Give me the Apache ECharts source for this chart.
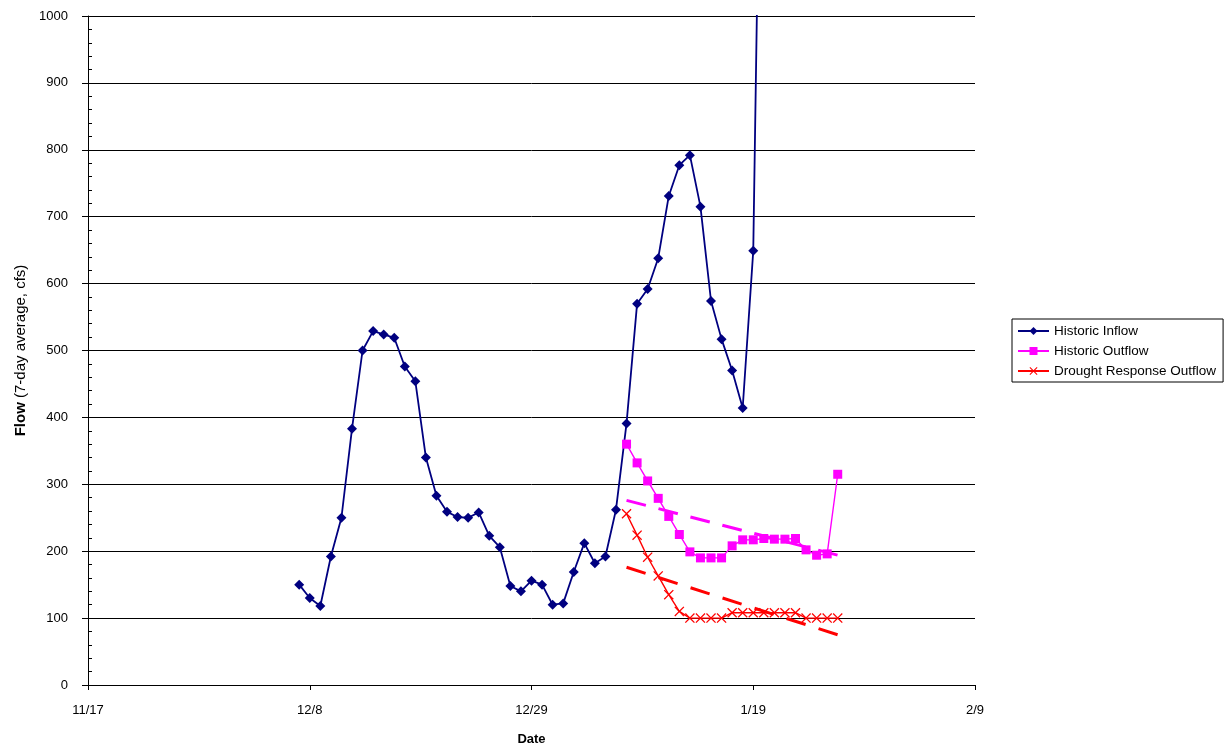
<!DOCTYPE html>
<html>
<head>
<meta charset="utf-8">
<script src="https://cdn.jsdelivr.net/npm/echarts@6/dist/echarts.min.js"></script>
<style>
html,body{margin:0;padding:0;background:#fff;}
#chart{width:1228px;height:753px;}
</style>
</head>
<body>
<div id="chart"></div>
<script>
// x values are days counted from 11/17
const xTickLabels = ['11/17', '12/8', '12/29', '1/19', '2/9'];
const inflowStartDay = 20;   // 12/7
const inflowValues = [150, 130, 118, 192, 250, 383, 500, 529, 524, 519, 476, 454, 340, 283, 259, 251, 250, 258, 223, 206, 148, 140,
  156, 150, 120, 122, 169, 212, 182, 192, 262, 391, 570, 592, 638, 731, 777, 792, 715, 574, 517, 470, 414, 649, 1680];
const outflowStartDay = 51;  // 1/7
const outflowValues = [360, 332, 305, 279, 252, 225, 199, 190, 190, 190, 208, 217, 217, 219, 218, 218, 219, 202, 194, 196, 315];
const droughtStartDay = 51;
const droughtValues = [256, 224, 191, 163, 135, 110, 100, 100, 100, 100, 108, 108, 108, 108, 108, 108, 108, 100, 100, 100, 100];
// linear trend lines (start/end values), over days 51..71
const trendDays = [51, 71];
const outflowTrend = [276, 194];
const droughtTrend = [176, 75];

function toPairs(start, vals) { return vals.map((v, i) => [start + i, v]); }
const xLabelMap = {};
xTickLabels.forEach((l, i) => { xLabelMap[i * 21] = l; });

const xSymbol = 'path://M0,0.9L0.9,0L5,4.1L9.1,0L10,0.9L5.9,5L10,9.1L9.1,10L5,5.9L0.9,10L0,9.1L4.1,5Z';
const font = 'Liberation Sans, Arial, sans-serif';

const chart = echarts.init(document.getElementById('chart'), null, {renderer: 'canvas'});
chart.setOption({
  animation: false,
  backgroundColor: '#fff',
  textStyle: {fontFamily: font},
  grid: {left: 88, right: 253, top: 16, bottom: 68, containLabel: false},
  legend: {
    orient: 'vertical', left: 1012, top: 319,
    borderColor: '#000', borderWidth: 1,
    padding: [5, 7, 4, 5],
    itemWidth: 31, itemHeight: 10, itemGap: 6,
    textStyle: {fontFamily: font, fontSize: 13.5, color: '#000'},
    data: ['Historic Inflow', 'Historic Outflow', 'Drought Response Outflow']
  },
  xAxis: {
    type: 'value', min: 0, max: 84, interval: 21,
    name: 'Date', nameLocation: 'middle', nameGap: 48,
    nameTextStyle: {fontFamily: font, fontSize: 13, fontWeight: 'bold', color: '#000'},
    axisLine: {show: true, lineStyle: {color: '#000', width: 1}},
    axisTick: {show: true, inside: false, length: 5, lineStyle: {color: '#000'}},
    axisLabel: {margin: 19, fontFamily: font, fontSize: 13, color: '#000',
      formatter: v => xLabelMap[v] || ''},
    splitLine: {show: false}
  },
  yAxis: [{
    type: 'value', min: 0, max: 1000, interval: 100,
    name: '{b|Flow} (7-day average, cfs)', nameLocation: 'middle', nameGap: 53,
    nameTextStyle: {fontFamily: font, fontSize: 15, color: '#000',
      rich: {b: {fontFamily: font, fontSize: 15, fontWeight: 'bold', color: '#000'}}},
    axisLine: {show: true, lineStyle: {color: '#000', width: 1}},
    axisTick: {show: true, inside: true, length: 0, lineStyle: {color: '#000'}},
    minorTick: {show: true, splitNumber: 5, length: 4, lineStyle: {color: '#000'}},
    axisLabel: {margin: 20, fontFamily: font, fontSize: 13, color: '#000',
      formatter: v => String(v)},
    splitLine: {show: true, lineStyle: {color: '#000', width: 1}}
  }, {
    type: 'value', min: 0, max: 1000, interval: 100, position: 'left',
    axisLine: {show: false},
    axisTick: {show: true, inside: false, length: 6, lineStyle: {color: '#000'}},
    axisLabel: {show: false},
    splitLine: {show: false}
  }],
  series: [
    {
      name: 'Historic Inflow', type: 'line', data: toPairs(inflowStartDay, inflowValues),
      symbol: 'diamond', symbolSize: 10, clip: true, z: 3,
      lineStyle: {color: '#000080', width: 1.8},
      itemStyle: {color: '#000080'}
    },
    {
      name: 'Historic Outflow', type: 'line', data: toPairs(outflowStartDay, outflowValues),
      symbol: 'rect', symbolSize: 9, clip: true, z: 4,
      lineStyle: {color: '#FF00FF', width: 1.4},
      itemStyle: {color: '#FF00FF'}
    },
    {
      name: 'Drought Response Outflow', type: 'line', data: toPairs(droughtStartDay, droughtValues),
      symbol: xSymbol, symbolSize: 10, clip: true, z: 4,
      lineStyle: {color: '#FF0000', width: 1.4},
      itemStyle: {color: '#FF0000'}
    },
    {
      name: 'Outflow trend', type: 'line', symbol: 'none', z: 2,
      data: trendDays.map((d, i) => [d, outflowTrend[i]]),
      lineStyle: {color: '#FF00FF', width: 3, type: [20, 13]}
    },
    {
      name: 'Drought trend', type: 'line', symbol: 'none', z: 2,
      data: trendDays.map((d, i) => [d, droughtTrend[i]]),
      lineStyle: {color: '#FF0000', width: 3, type: [20, 13.6]}
    }
  ]
});
</script>
</body>
</html>
